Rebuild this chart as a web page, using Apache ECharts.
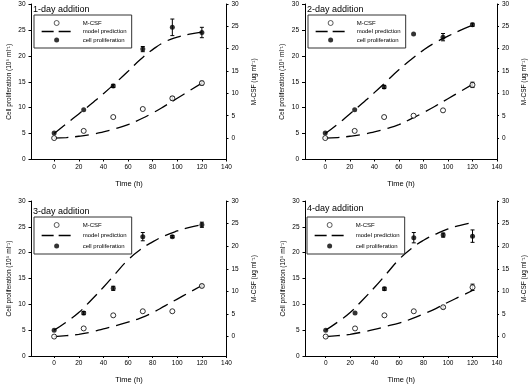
<!DOCTYPE html>
<html>
<head>
<meta charset="utf-8">
<script src="https://cdn.jsdelivr.net/npm/echarts@6/dist/echarts.min.js"></script>
<style>
html, body { margin: 0; padding: 0; background: #fff; }
#chart { width: 529px; height: 388px; }
</style>
</head>
<body>
<div id="chart"></div>
<script>
var hours = [0, 24, 48, 72, 96, 120];
var modelHours = [0, 10, 20, 30, 40, 50, 60, 70, 80, 90, 100, 110, 120];
var timeTicks = [0, 20, 40, 60, 80, 100, 120, 140];
var csfTicks = [0, 5, 10, 15, 20, 25, 30];
var titles = ['1-day addition', '2-day addition', '3-day addition', '4-day addition'];

// cell proliferation (10^5 ml^-1), left axis
var cell1 = [5.1, 9.6, 14.2, 21.3, 25.5, 24.5];
var cellErr1 = [0, 0, 0.3, 0.5, 1.6, 1.0];
var cell2 = [5.1, 9.6, 14.0, 24.2, 23.6, 26.0];
var cellErr2 = [0, 0, 0.3, 0, 0.7, 0.3];
var cell3 = [5.0, 8.3, 13.1, 23.1, 23.1, 25.4];
var cellErr3 = [0, 0.3, 0.4, 0.8, 0.2, 0.5];
var cell4 = [5.0, 8.3, 13.0, 22.9, 23.4, 23.2];
var cellErr4 = [0, 0, 0.3, 1.0, 0.4, 1.2];

// M-CSF (ug ml^-1), right axis
var csf1 = [0, 1.6, 4.7, 6.5, 8.9, 12.3];
var csfErr1 = [0, 0, 0, 0, 0.4, 0.4];
var csf2 = [0, 1.6, 4.7, 5.0, 6.2, 11.9];
var csfErr2 = [0, 0, 0, 0, 0, 0.6];
var csf3 = [0, 1.8, 4.7, 5.6, 5.6, 11.2];
var csfErr3 = [0, 0, 0, 0, 0, 0.3];
var csf4 = [0, 1.8, 4.7, 5.6, 6.5, 10.9];
var csfErr4 = [0, 0, 0, 0, 0.3, 0.7];

// model prediction curves
var modelCell1 = [5.0, 6.9, 8.8, 10.7, 12.7, 14.8, 17.0, 19.3, 21.2, 22.7, 23.6, 24.2, 24.6];
var modelCsf1 = [0, 0.1, 0.4, 0.8, 1.4, 2.1, 3.0, 4.2, 5.6, 7.2, 8.9, 10.6, 12.3];
var modelCell2 = [5.0, 6.8, 8.8, 10.8, 12.9, 15.1, 17.3, 19.3, 21.1, 22.6, 23.8, 24.9, 25.9];
var modelCsf2 = [0, 0.1, 0.4, 0.8, 1.4, 2.1, 3.0, 4.3, 5.7, 7.2, 8.8, 10.4, 12.0];
var modelCell3 = [5.0, 6.6, 8.4, 10.8, 13.3, 16.0, 18.6, 20.6, 22.1, 23.3, 24.2, 24.9, 25.4];
var modelCsf3 = [0, 0.2, 0.5, 1.0, 1.7, 2.4, 3.2, 4.1, 5.3, 6.8, 8.3, 9.8, 11.3];
var modelCell4 = [5.0, 6.6, 8.4, 10.8, 13.3, 16.0, 18.7, 20.8, 22.4, 23.6, 24.6, 25.3, 25.8];
var modelCsf4 = [0, 0.2, 0.5, 1.0, 1.6, 2.3, 3.0, 3.9, 5.0, 6.2, 7.6, 8.9, 10.2];

var panels = [
  { cell: cell1, cellErr: cellErr1, csf: csf1, csfErr: csfErr1, mCell: modelCell1, mCsf: modelCsf1 },
  { cell: cell2, cellErr: cellErr2, csf: csf2, csfErr: csfErr2, mCell: modelCell2, mCsf: modelCsf2 },
  { cell: cell3, cellErr: cellErr3, csf: csf3, csfErr: csfErr3, mCell: modelCell3, mCsf: modelCsf3 },
  { cell: cell4, cellErr: cellErr4, csf: csf4, csfErr: csfErr4, mCell: modelCell4, mCsf: modelCsf4 }
];

// layout
var grids = [
  { left: 31.5, top: 4, width: 195, height: 155.5 },
  { left: 305, top: 4, width: 194.5, height: 155.5 },
  { left: 31.5, top: 201, width: 195, height: 155 },
  { left: 305.5, top: 201, width: 194, height: 155 }
];
var xMins = [-18.4, -16.5, -18.4, -16.5];
var csfMins = [-4.8, -4.8, -4.3, -4.3];
var legendPos = [[34, 15, 2.5], [308, 15, 2.5], [34, 217, 4.5], [307, 217, 4.5]];
var titlePos = [[33, 5], [307, 5], [33, 207], [307, 204]];

var font = 'Liberation Sans, Arial, sans-serif';
var black = '#000';

function pairs(xs, ys) {
  return xs.map(function (x, k) { return [x, ys[k]]; });
}
function triples(xs, ys, es) {
  return xs.map(function (x, k) { return [x, ys[k], es[k]]; });
}

function errorBar(params, api) {
  var x = api.value(0), y = api.value(1), e = api.value(2);
  if (!e) return null;
  var hi = api.coord([x, y + e]);
  var lo = api.coord([x, y - e]);
  var cap = 2;
  var style = { stroke: black, lineWidth: 1 };
  return {
    type: 'group',
    children: [
      { type: 'line', shape: { x1: hi[0], y1: hi[1], x2: lo[0], y2: lo[1] }, style: style },
      { type: 'line', shape: { x1: hi[0] - cap, y1: hi[1], x2: hi[0] + cap, y2: hi[1] }, style: style },
      { type: 'line', shape: { x1: lo[0] - cap, y1: lo[1], x2: lo[0] + cap, y2: lo[1] }, style: style }
    ]
  };
}

var chart = echarts.init(document.getElementById('chart'));

var option = {
  animation: false,
  backgroundColor: '#fff',
  title: [],
  legend: [],
  grid: [],
  xAxis: [],
  yAxis: [],
  series: []
};

panels.forEach(function (p, i) {
  option.grid.push(grids[i]);

  option.title.push({
    text: titles[i],
    left: titlePos[i][0],
    top: titlePos[i][1],
    padding: 0,
    textStyle: { fontSize: 9, fontWeight: 'normal', fontFamily: font, color: black }
  });

  option.legend.push({
    orient: 'vertical',
    left: legendPos[i][0],
    top: legendPos[i][1],
    padding: [5, 5, 5, 7],
    itemGap: legendPos[i][2],
    itemWidth: 30,
    itemHeight: 5,
    selectedMode: false,
    borderColor: '#333',
    borderWidth: 1,
    textStyle: { fontSize: 6, fontFamily: font, color: black, padding: [0, 0, 0, 6] },
    data: [
      { name: 'M-CSF', icon: 'circle', itemStyle: { color: '#fff', borderColor: black, borderWidth: 0.8 } },
      { name: 'model prediction', itemStyle: { opacity: 0 }, lineStyle: { type: [12, 5], width: 1.3, color: black } },
      { name: 'cell proliferation', icon: 'circle', itemStyle: { color: black, borderWidth: 0 } }
    ]
  });

  option.xAxis.push({
    gridIndex: i,
    type: 'value',
    min: xMins[i],
    max: 140,
    name: 'Time (h)',
    nameLocation: 'middle',
    nameGap: 20,
    nameTextStyle: { fontSize: 7.5, fontFamily: font, color: black },
    axisLine: { onZero: false, lineStyle: { color: black, width: 1 } },
    axisTick: { show: true, length: 2, customValues: timeTicks, lineStyle: { color: black } },
    axisLabel: { customValues: timeTicks, fontSize: 6.5, margin: 4, fontFamily: font, color: black },
    splitLine: { show: false }
  });

  option.yAxis.push({
    gridIndex: i,
    type: 'value',
    position: 'left',
    min: 0,
    max: 30,
    interval: 5,
    name: 'Cell proliferation (10\u2075 ml\u207B\u00B9)',
    nameLocation: 'middle',
    nameGap: 19,
    nameRotate: 90,
    nameTextStyle: { fontSize: 6.5, fontFamily: font, color: black },
    axisLine: { show: true, onZero: false, lineStyle: { color: black, width: 1 } },
    axisTick: { show: true, length: 3, lineStyle: { color: black } },
    axisLabel: { fontSize: 6.5, margin: 6, fontFamily: font, color: black },
    splitLine: { show: false }
  });

  option.yAxis.push({
    gridIndex: i,
    type: 'value',
    position: 'right',
    min: csfMins[i],
    max: 30,
    name: 'M-CSF (ug ml\u207B\u00B9)',
    nameLocation: 'middle',
    nameGap: 24,
    nameRotate: 90,
    nameTextStyle: { fontSize: 6.5, fontFamily: font, color: black },
    axisLine: { show: true, onZero: false, lineStyle: { color: black, width: 1 } },
    axisTick: { show: true, length: 2, customValues: csfTicks, lineStyle: { color: black } },
    axisLabel: { customValues: csfTicks, fontSize: 6.5, margin: 5, fontFamily: font, color: black },
    splitLine: { show: false }
  });

  var yl = 2 * i, yr = 2 * i + 1;
  var dash = { color: black, width: 1.3, type: [14, 7] };

  option.series.push(
    {
      name: 'model prediction', type: 'line', xAxisIndex: i, yAxisIndex: yl,
      data: pairs(modelHours, p.mCell), smooth: true, symbol: 'none',
      itemStyle: { color: black }, lineStyle: dash, z: 2
    },
    {
      name: 'model prediction', type: 'line', xAxisIndex: i, yAxisIndex: yr,
      data: pairs(modelHours, p.mCsf), smooth: true, symbol: 'none',
      itemStyle: { color: black }, lineStyle: dash, z: 2
    },
    {
      type: 'custom', xAxisIndex: i, yAxisIndex: yl, silent: true, z: 3,
      data: triples(hours, p.cell, p.cellErr), renderItem: errorBar
    },
    {
      type: 'custom', xAxisIndex: i, yAxisIndex: yr, silent: true, z: 3,
      data: triples(hours, p.csf, p.csfErr), renderItem: errorBar
    },
    {
      name: 'cell proliferation', type: 'scatter', xAxisIndex: i, yAxisIndex: yl,
      data: pairs(hours, p.cell), symbol: 'circle', symbolSize: 5,
      itemStyle: { color: black }, z: 4
    },
    {
      name: 'M-CSF', type: 'scatter', xAxisIndex: i, yAxisIndex: yr,
      data: pairs(hours, p.csf), symbol: 'circle', symbolSize: 5,
      itemStyle: { color: '#fff', borderColor: black, borderWidth: 1 }, z: 4
    }
  );
});

chart.setOption(option);
</script>
</body>
</html>
